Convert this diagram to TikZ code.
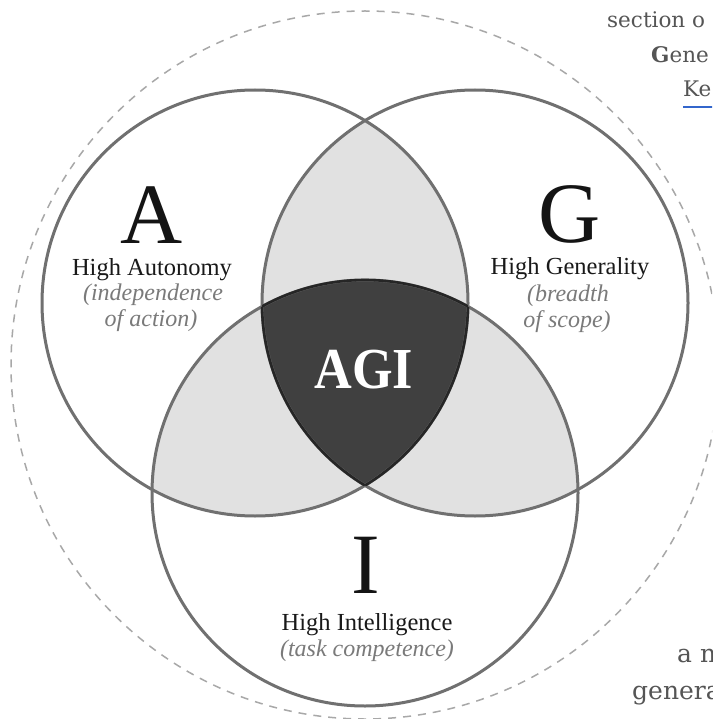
\documentclass[tikz,border=0pt]{standalone}
\usepackage{fontspec}
\setmainfont{Liberation Serif}
\newfontfamily\webfont{DejaVu Serif}
\begin{document}
\begin{tikzpicture}[x=1pt,y=-1pt,
  ring/.style={draw=ringgray,line width=3pt},
  agiedge/.style={draw=black!85,line width=2.6pt},
  bigletter/.style={anchor=base,font=\fontsize{86}{86}\selectfont,text=black!92},
  heading/.style={anchor=base,font=\fontsize{24.5}{26}\selectfont,text=black!90},
  subtext/.style={anchor=base,font=\fontsize{24}{26}\selectfont\itshape,text=subgray},
  web/.style={anchor=base west,font=\webfont\fontsize{21.5}{23}\selectfont,text=webgray,inner sep=0pt},
  webbig/.style={anchor=base west,font=\webfont\fontsize{25}{27}\selectfont,text=webgray,inner sep=0pt}]
\definecolor{ringgray}{HTML}{707070}
\definecolor{lightfill}{HTML}{E1E1E1}
\definecolor{darkfill}{HTML}{404040}
\definecolor{dashgray}{HTML}{A8A8A8}
\definecolor{subgray}{HTML}{7A7A7A}
\definecolor{webgray}{HTML}{555555}
\definecolor{linkblue}{HTML}{3366CC}
\useasboundingbox (0,0) rectangle (712,719);
\clip (0,0) rectangle (712,719);
\fill[white] (0,0) rectangle (712,719);
\coordinate (A) at (255,303);
\coordinate (G) at (475,303);
\coordinate (I) at (365,493);
\coordinate (O) at (365,365);
% outer dashed circle
\draw[dashgray,line width=1.5pt,dash pattern=on 8pt off 7pt] (O) circle[radius=354];
% pairwise overlaps
\begin{scope}\clip (A) circle[radius=213]; \fill[lightfill] (G) circle[radius=213]; \end{scope}
\begin{scope}\clip (A) circle[radius=213]; \fill[lightfill] (I) circle[radius=213]; \end{scope}
\begin{scope}\clip (G) circle[radius=213]; \fill[lightfill] (I) circle[radius=213]; \end{scope}
% triple overlap
\begin{scope}\clip (A) circle[radius=213]; \clip (G) circle[radius=213]; \fill[darkfill] (I) circle[radius=213]; \end{scope}
% circle outlines
\draw[ring] (A) circle[radius=213];
\draw[ring] (G) circle[radius=213];
\draw[ring] (I) circle[radius=213];
% AGI outline
\begin{scope}\clip (A) circle[radius=213]; \clip (G) circle[radius=213]; \draw[agiedge] (I) circle[radius=213]; \end{scope}
\begin{scope}\clip (A) circle[radius=213]; \clip (I) circle[radius=213]; \draw[agiedge] (G) circle[radius=213]; \end{scope}
\begin{scope}\clip (G) circle[radius=213]; \clip (I) circle[radius=213]; \draw[agiedge] (A) circle[radius=213]; \end{scope}
% labels A
\node[bigletter] (la) at (152,243) {A};
\node[heading] (ha) at (152,275) {High Autonomy};
\node[subtext] (sa1) at (153,300) {(independence};
\node[subtext] (sa2) at (151,326) {of action)};
% labels G
\node[bigletter] (lg) at (570,242) {G};
\node[heading] (hg) at (570,274) {High Generality};
\node[subtext] (sg1) at (568,301) {(breadth};
\node[subtext] (sg2) at (567,327) {of scope)};
% labels I
\node[bigletter] (li) at (366,593) {I};
\node[heading] (hi) at (367,630) {High Intelligence};
\node[subtext] (si) at (367,656) {(task competence)};
% AGI
\node[anchor=base,text=white,font=\fontsize{58}{58}\selectfont\bfseries,xscale=0.9] (agi) at (364,388) {AGI};
% page text at right
\node[web] (w1) at (607,28) {section o};
\node[web] (w2) at (651,63) {\textbf{G}ene};
\node[web] (w3) at (683,97) {Ke};
\draw[linkblue,line width=1.2pt] (w3.base west) ++(0,10) -- ++(40,0);
\node[webbig] (w4) at (677,662) {a n};
\node[webbig] (w5) at (632,699) {genera};
\end{tikzpicture}
\end{document}
